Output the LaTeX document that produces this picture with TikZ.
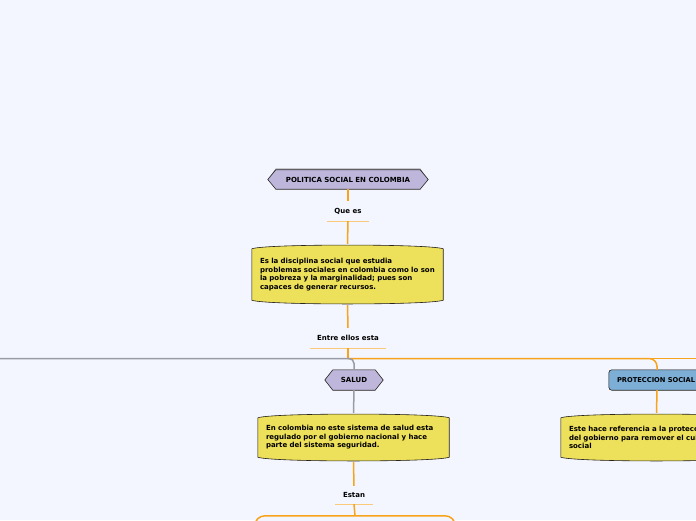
\documentclass[tikz,border=0pt]{standalone}
\usepackage{fontspec}
\setmainfont{DejaVu Sans}
\usetikzlibrary{backgrounds,calc}
\definecolor{bgc}{HTML}{F3F6FE}
\definecolor{lav}{HTML}{BEB7DB}
\definecolor{ylw}{HTML}{EDE05B}
\definecolor{blu}{HTML}{7DAFD6}
\definecolor{org}{HTML}{F8A31C}
\definecolor{lorg}{HTML}{FBC97A}
\definecolor{gry}{HTML}{9A9AA6}
\definecolor{bord}{HTML}{2A2622}
\definecolor{shd}{HTML}{77767E}
\newcommand\hexpath[1]{([xshift=-8pt]#1.west) -- (#1.north west) -- (#1.north east) -- ([xshift=8pt]#1.east) -- (#1.south east) -- (#1.south west) -- cycle}
\newcommand\wavypath[1]{([yshift=-5pt]#1.north west) .. controls ([xshift=14pt]#1.north west) and ([xshift=-14pt]#1.north east) .. ([yshift=-5pt]#1.north east) -- ([yshift=5pt]#1.south east) .. controls ([xshift=-14pt]#1.south east) and ([xshift=14pt]#1.south west) .. ([yshift=5pt]#1.south west) -- cycle}
\begin{document}
\begin{tikzpicture}[x=1pt,y=-1pt,
  txt/.style={font=\bfseries\fontsize{7}{8.5}\selectfont, text=black},
  topic/.style={txt, rectangle, inner sep=0pt},
  body/.style={txt, rectangle, inner xsep=8pt, inner ysep=0pt, align=left, anchor=center},
  lbl/.style={txt, rectangle, inner sep=0pt},
  oline/.style={draw=org, line width=1.5pt},
  gline/.style={draw=gry, line width=1.5pt},
  uline/.style={draw=lorg, line width=1pt},
  outl/.style={draw=bord, line width=0.6pt}]
\useasboundingbox (0,0) rectangle (696,520);
\begin{scope}[on background layer]
  \fill[bgc] (0,0) rectangle (696,520);
\end{scope}

% nodes
\node[topic, minimum width=144pt, minimum height=19pt] (root) at (348,179.5) {POLITICA SOCIAL EN COLOMBIA};
\node[lbl, minimum width=42pt, minimum height=20pt] (qe) at (348,211) {Que es};
\node[body, minimum width=191pt, minimum height=61pt, text width=175pt] (b1) at (347.5,274.5)
  {Es la disciplina social que estudia\\problemas sociales en colombia como lo son\\la pobreza y la marginalidad; pues son\\capaces de generar recursos.};
\node[lbl, minimum width=76pt, minimum height=20pt] (ee) at (348,338) {Entre ellos esta};
\node[topic, minimum width=42pt, minimum height=20pt] (salud) at (354,380) {SALUD};
\node[topic, minimum width=96pt, minimum height=20pt, text width=80pt, align=left, font=\bfseries\fontsize{6.7}{8}\selectfont] (prot) at (657,380) {PROTECCION SOCIAL};
\node[body, minimum width=191pt, minimum height=49pt, text width=175pt] (b2) at (353.5,437.5)
  {En colombia no este sistema de salud esta\\regulado por el gobierno nacional y hace\\parte del sistema seguridad.};
\node[body, minimum width=191pt, minimum height=49pt, text width=175pt] (b3) at (656.5,437.5)
  {Este hace referencia a la proteccion\\del gobierno para remover el cuidado\\social};
\node[lbl, minimum width=38pt, minimum height=18pt] (es) at (354,495) {Estan};
\node[rectangle, minimum width=200pt, minimum height=70pt, inner sep=0pt] (b4) at (355,551) {};
\coordinate (j) at (348,358.5);
\coordinate (rightend) at (700,358.5);
\coordinate (leftend) at (-5,358.5);

% shapes
\begin{scope}[on background layer]
  \fill[shd] ([yshift=1.2pt]root.north west) -- ([yshift=1.2pt]root.north east) -- ([xshift=8pt]root.east) -- ([xshift=-8pt]root.west) -- cycle;
  \filldraw[fill=lav, outl] \hexpath{root};
  \fill[shd, yshift=-1.5pt] \hexpath{salud};
  \filldraw[fill=lav, outl] \hexpath{salud};
  \fill[shd, yshift=-1.5pt, rounded corners=3pt] (prot.north west) rectangle (prot.south east);
  \filldraw[fill=blu, outl, rounded corners=3pt] (prot.north west) rectangle (prot.south east);
  \fill[shd, yshift=-1.2pt] \wavypath{b1};
  \filldraw[fill=ylw, outl] \wavypath{b1};
  \fill[shd, yshift=-1.2pt] \wavypath{b2};
  \filldraw[fill=ylw, outl] \wavypath{b2};
  \fill[shd, yshift=-1.2pt] \wavypath{b3};
  \filldraw[fill=ylw, outl] \wavypath{b3};
  \draw[org, line width=1.5pt, fill=bgc, rounded corners=10pt] (b4.north west) rectangle (b4.south east);
\end{scope}

% underlines
\draw[uline] (qe.south west) -- (qe.south east);
\draw[uline] (ee.south west) -- (ee.south east);
\draw[uline] (es.south west) -- (es.south east);

% connectors
\draw[oline] (root.south) -- (qe.north);
\draw[oline] (qe.south) -- (b1.north);
\draw[oline] (b1.south) -- (ee.north);
\draw[oline] (ee.south) |- (rightend);
\draw[oline, rounded corners=8pt] (j) -| (prot.north);
\draw[gline, rounded corners=5pt] (salud.north) |- (leftend);
\draw[gline] (salud.south) -- (b2.north);
\draw[oline] (prot.south) -- (b3.north);
\draw[oline] (b2.south) -- (es.north);
\draw[oline] (es.south) -- (b4.north);
\end{tikzpicture}
\end{document}
